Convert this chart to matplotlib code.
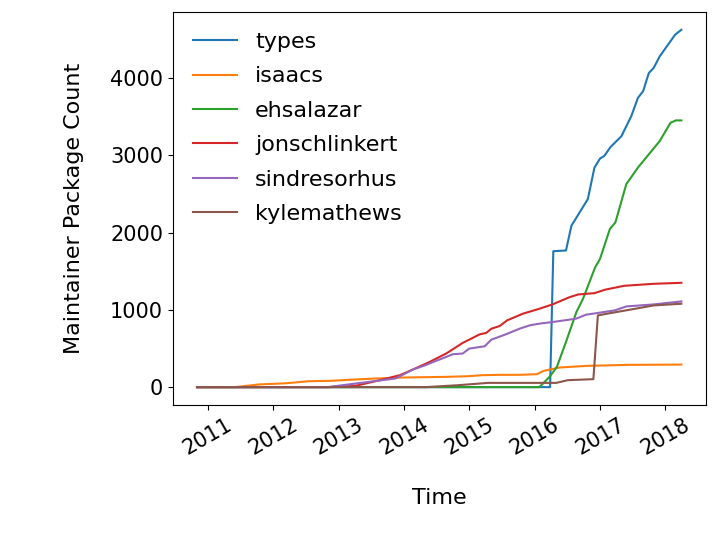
import matplotlib
matplotlib.use('Agg')
import matplotlib.pyplot as plt
import pandas as pd

plt.rcParams['font.size'] = 16
plt.rcParams['xtick.labelsize'] = 15
plt.rcParams['ytick.labelsize'] = 15

# values
types_dates = ['2010-11-01', '2016-03-28', '2016-04-15', '2016-06-25', '2016-07-25',
               '2016-10-25', '2016-12-01', '2017-01-01', '2017-01-25', '2017-03-01',
               '2017-05-01', '2017-06-25', '2017-08-01', '2017-08-30', '2017-10-01',
               '2017-10-28', '2017-12-01', '2018-02-25', '2018-04-01']
types_vals = [0, 0, 1760, 1770, 2090, 2435, 2843, 2960, 2994, 3110,
              3250, 3510, 3746, 3832, 4068, 4133, 4284, 4564, 4628]

isaacs_dates = ['2010-11-01', '2011-06-01', '2011-10-15', '2012-02-25', '2012-05-01',
                '2012-07-20', '2012-11-10', '2013-04-05', '2013-07-30', '2014-01-01',
                '2014-08-25', '2015-01-01', '2015-03-15', '2015-06-20', '2015-10-10',
                '2016-01-15', '2016-02-20', '2016-05-20', '2016-10-15', '2017-05-28',
                '2018-04-01']
isaacs_vals = [0, 0, 35, 48, 60, 77, 81, 99, 112, 125,
               133, 142, 155, 159, 159, 168, 210, 254, 275, 288, 292]

ehsalazar_dates = ['2010-11-01', '2016-01-28', '2016-03-25', '2016-05-05', '2016-06-28',
                   '2016-08-22', '2016-09-28', '2016-12-05', '2017-01-01', '2017-02-25',
                   '2017-03-28', '2017-05-28', '2017-08-01', '2017-12-01', '2018-01-30',
                   '2018-03-01', '2018-04-01']
ehsalazar_vals = [0, 0, 133, 262, 606, 972, 1144, 1552, 1660, 2047,
                  2133, 2628, 2843, 3187, 3423, 3454, 3454]

jon_dates = ['2010-11-01', '2012-11-01', '2013-04-01', '2013-08-01', '2013-12-10',
             '2014-02-20', '2014-05-25', '2014-08-25', '2014-11-25', '2015-03-01',
             '2015-04-05', '2015-05-05', '2015-06-20', '2015-08-01', '2015-10-28',
             '2016-01-28', '2016-04-10', '2016-07-15', '2016-09-01', '2016-12-01',
             '2017-01-28', '2017-05-15', '2017-10-28', '2018-04-01']
jon_vals = [0, 0, 15, 80, 155, 228, 327, 435, 572, 684,
            701, 757, 791, 865, 951, 1015, 1071, 1165, 1200, 1217,
            1261, 1312, 1338, 1351]

sindre_dates = ['2010-11-01', '2012-11-01', '2013-04-01', '2013-08-15', '2013-11-15',
                '2014-02-20', '2014-05-01', '2014-06-15', '2014-08-25', '2014-10-01',
                '2014-11-25', '2015-01-01', '2015-03-28', '2015-05-05', '2015-07-25',
                '2015-10-10', '2015-12-05', '2016-01-28', '2016-04-10', '2016-08-20',
                '2016-10-15', '2016-12-15', '2017-03-25', '2017-05-28', '2017-10-28',
                '2018-04-01']
sindre_vals = [0, 0, 45, 85, 112, 228, 284, 327, 391, 426,
               435, 499, 529, 615, 684, 757, 800, 822, 843, 886,
               938, 959, 994, 1045, 1071, 1110]

kyle_dates = ['2010-11-01', '2014-05-01', '2014-11-01', '2015-04-15', '2016-05-01',
              '2016-07-05', '2016-11-25', '2016-12-20', '2017-03-01', '2017-06-15',
              '2017-10-28', '2018-04-01']
kyle_vals = [0, 0, 25, 55, 55, 90, 103, 929, 959, 1002, 1058, 1080]

series = [
    ('types', types_dates, types_vals),
    ('isaacs', isaacs_dates, isaacs_vals),
    ('ehsalazar', ehsalazar_dates, ehsalazar_vals),
    ('jonschlinkert', jon_dates, jon_vals),
    ('sindresorhus', sindre_dates, sindre_vals),
    ('kylemathews', kyle_dates, kyle_vals),
]

fig, ax = plt.subplots(figsize=(7.2, 5.4), dpi=100)
for name, d, v in series:
    ax.plot(pd.to_datetime(d), v, label=name)

ax.set_xlabel('Time', labelpad=21)
ax.set_ylabel('Maintainer Package Count', labelpad=19)
ax.legend(loc='upper left', frameon=False, labelspacing=0.65)
plt.setp(ax.get_xticklabels(), rotation=30)
fig.subplots_adjust(left=0.24, right=0.98, top=0.978, bottom=0.25)
fig.savefig('out.png')
